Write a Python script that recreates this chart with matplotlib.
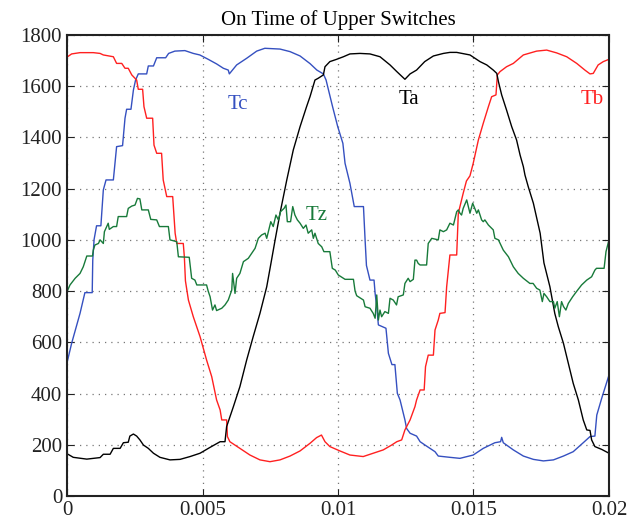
import numpy as np
import matplotlib
matplotlib.use("Agg")
import matplotlib.pyplot as plt

# time in ms
tc_t = [0.0, 0.17, 0.48, 0.66, 0.93, 0.95, 1.0, 1.09, 1.25, 1.34, 1.44, 1.71, 1.83, 2.05, 2.14, 2.2, 2.36,
        2.45, 2.53, 2.63, 2.94, 3.0, 3.19, 3.31, 3.64, 3.75, 3.98, 4.35, 4.66, 4.9, 5.21, 5.52, 5.77, 5.95,
        5.99, 6.26, 6.63, 7.0, 7.3, 7.86, 8.23, 8.6, 8.97, 9.22, 9.46, 9.56, 9.8, 9.99, 10.18, 10.26, 10.44,
        10.6, 10.94, 11.0, 11.05, 11.18, 11.33, 11.37, 11.43, 11.49, 11.77, 11.86, 11.99, 12.1, 12.19, 12.29,
        12.47, 12.53, 12.66, 12.9, 13.03, 13.21, 13.58, 13.7, 14.13, 14.5, 14.99, 15.36, 15.79, 16.0, 16.04,
        16.1, 16.47, 16.84, 17.21, 17.58, 17.95, 18.32, 18.68, 19.05, 19.3, 19.48, 19.55, 19.73, 20.0]
tc_v = [520, 596, 713, 794, 794, 921, 1002, 1055, 1055, 1195, 1234, 1234, 1364, 1368, 1475, 1510, 1510,
        1585, 1624, 1648, 1648, 1679, 1679, 1711, 1711, 1728, 1737, 1739, 1728, 1722, 1705, 1687, 1670, 1663,
        1648, 1683, 1709, 1737, 1748, 1745, 1735, 1718, 1688, 1663, 1648, 1624, 1520, 1442, 1377, 1299, 1221,
        1130, 1130, 1000, 900, 843, 843, 791, 739, 668, 655, 557, 513, 513, 401, 375,
        297, 264, 245, 234, 212, 199, 173, 156, 151, 147, 160, 186, 208, 212, 229,
        208, 180, 156, 143, 137, 141, 156, 173, 208, 232, 234, 316, 381, 472]

tb_t = [0.02, 0.17, 0.48, 0.97, 1.22, 1.34, 1.71, 1.83, 2.02, 2.14, 2.26, 2.39, 2.57, 2.63, 2.79, 2.84, 2.94,
        3.16, 3.21, 3.31, 3.49, 3.55, 3.68, 3.9, 3.99, 4.05, 4.29, 4.33, 4.37, 4.48, 4.66, 4.91, 5.15, 5.34,
        5.52, 5.65, 5.71, 5.89, 5.92, 6.01, 6.38, 6.75, 7.12, 7.49, 7.86, 8.23, 8.6, 8.97, 9.21, 9.39, 9.52,
        9.7, 10.07, 10.44, 10.93, 11.3, 11.67, 11.98, 12.17, 12.35, 12.47, 12.66, 12.84, 12.9, 13.03, 13.18,
        13.23, 13.33, 13.52, 13.58, 13.7, 13.76, 13.95, 14.01, 14.13, 14.38, 14.44, 14.62, 14.74, 14.87, 14.99,
        15.18, 15.36, 15.55, 15.67, 15.83, 15.88, 15.98, 16.22, 16.47, 16.84, 17.33, 17.7, 18.07, 18.44, 18.81,
        19.11, 19.3, 19.42, 19.6, 19.79, 20.0]
tb_v = [1715, 1726, 1731, 1731, 1728, 1722, 1715, 1689, 1689, 1670, 1670, 1644, 1624, 1588, 1588, 1520, 1475,
        1475, 1370, 1338, 1338, 1234, 1169, 1169, 1026, 986, 986, 934, 840, 765, 700, 622, 531, 466,
        375, 336, 297, 297, 232, 212, 186, 160, 141, 134, 141, 156, 176, 206, 228, 238, 212,
        193, 176, 160, 154, 167, 180, 199, 212, 219, 258, 297, 349, 375, 414, 414,
        505, 550, 550, 648, 687, 713, 716, 817, 941, 941, 1104, 1182, 1230, 1250, 1299,
        1390, 1455, 1520, 1559, 1566, 1644, 1657, 1676, 1689, 1722, 1737, 1741, 1730, 1715, 1689,
        1663, 1648, 1650, 1683, 1696, 1705]

ta_t = [0.02, 0.23, 0.73, 1.22, 1.34, 1.59, 1.71, 1.96, 2.08, 2.26, 2.32, 2.45, 2.57, 2.69, 2.82, 3.0, 3.19,
        3.43, 3.8, 4.17, 4.54, 4.91, 5.28, 5.65, 5.83, 5.89, 6.14, 6.38, 6.63, 6.87, 7.12, 7.37, 7.52, 7.68,
        7.86, 8.11, 8.35, 8.6, 8.84, 8.97, 9.15, 9.27, 9.46, 9.52, 9.7, 9.95, 10.2, 10.44, 10.81, 11.18, 11.55,
        11.92, 12.17, 12.47, 12.66, 12.9, 13.2, 13.52, 13.89, 14.13, 14.38, 14.87, 15.24, 15.49, 15.73, 15.86,
        15.92, 16.04, 16.22, 16.41, 16.59, 16.72, 16.84, 16.9, 17.02, 17.21, 17.46, 17.6, 17.82, 18.0, 18.13,
        18.32, 18.5, 18.68, 18.87, 19.05, 19.18, 19.3, 19.36, 19.48, 19.73, 20.0]
ta_v = [164, 151, 144, 150, 163, 163, 186, 186, 208, 210, 234, 242, 234, 219, 199, 186, 167,
        151, 141, 143, 154, 167, 190, 212, 212, 271, 349, 427, 531, 622, 713, 817, 905, 1000,
        1104, 1234, 1351, 1442, 1520, 1560, 1624, 1631, 1644, 1676, 1696, 1705, 1715, 1726, 1728, 1726, 1715,
        1683, 1657, 1627, 1648, 1663, 1696, 1718, 1728, 1732, 1732, 1722, 1696, 1683, 1663, 1650,
        1618, 1566, 1507, 1442, 1390, 1331, 1286, 1253, 1208, 1143, 1026, 910, 817, 713, 661,
        596, 518, 440, 375, 297, 258, 256, 219, 193, 182, 167]

tz_t = [0.0, 0.11, 0.3, 0.48, 0.6, 0.73, 0.94, 0.97, 1.03, 1.16, 1.22, 1.34, 1.38, 1.52, 1.56, 1.71, 1.83,
        1.89, 2.2, 2.26, 2.39, 2.51, 2.6, 2.69, 2.76, 3.0, 3.09, 3.31, 3.41, 3.74, 3.8, 4.05, 4.11, 4.51,
        4.6, 4.72, 4.79, 5.15, 5.21, 5.28, 5.37, 5.46, 5.52, 5.71, 5.83, 5.95, 6.08, 6.11, 6.2, 6.26, 6.38,
        6.51, 6.69, 6.81, 6.94, 7.06, 7.18, 7.31, 7.37, 7.52, 7.61, 7.71, 7.8, 7.88, 8.01, 8.08, 8.13, 8.25,
        8.33, 8.41, 8.5, 8.6, 8.72, 8.82, 8.9, 9.03, 9.09, 9.15, 9.27, 9.4, 9.48, 9.7, 9.79, 9.9, 10.01,
        10.26, 10.57, 10.63, 10.69, 10.94, 11.0, 11.18, 11.3, 11.37, 11.43, 11.49, 11.55, 11.61, 11.73, 11.86,
        11.92, 12.04, 12.16, 12.22, 12.41, 12.47, 12.59, 12.66, 12.78, 12.84, 12.9, 12.96, 13.03, 13.27, 13.33,
        13.46, 13.7, 13.76, 13.89, 14.01, 14.13, 14.26, 14.38, 14.44, 14.5, 14.56, 14.62, 14.75, 14.81, 14.87,
        14.97, 15.02, 15.12, 15.18, 15.3, 15.36, 15.42, 15.55, 15.73, 15.79, 15.92, 16.1, 16.29, 16.47, 16.65,
        16.84, 17.08, 17.2, 17.33, 17.45, 17.54, 17.6, 17.7, 17.82, 17.95, 18.0, 18.09, 18.17, 18.25, 18.32,
        18.41, 18.5, 18.66, 18.8, 18.99, 19.18, 19.36, 19.48, 19.54, 19.82, 19.89, 20.0]
tz_v = [798, 824, 850, 869, 895, 937, 937, 960, 980, 986, 1000, 986, 1032, 1065, 1041, 1052, 1052,
        1091, 1091, 1123, 1132, 1136, 1162, 1160, 1117, 1117, 1080, 1078, 1052, 1052, 1000, 993, 934, 932,
        850, 843, 824, 824, 800, 778, 726, 746, 724, 733, 746, 765, 804, 869, 791, 850, 869,
        915, 928, 947, 967, 1006, 1019, 1026, 1006, 1071, 1052, 1097, 1078, 1110, 1123, 1136, 1071, 1071,
        1130, 1097, 1078, 1065, 1045, 1058, 1026, 1039, 1006, 1026, 986, 973, 954, 954, 889, 882, 863,
        846, 846, 800, 782, 765, 739, 733, 713, 694, 785, 687, 726, 700, 720, 713,
        772, 765, 746, 778, 785, 830, 850, 837, 846, 921, 921, 908, 902, 902, 986,
        1006, 1000, 1039, 1032, 1039, 1065, 1058, 1110, 1117, 1104, 1097, 1123, 1156, 1130, 1104,
        1143, 1130, 1104, 1117, 1078, 1071, 1078, 1058, 1039, 1006, 1000, 960, 934, 895, 869,
        850, 830, 830, 811, 804, 759, 791, 778, 759, 759, 733, 759, 700, 759, 740,
        726, 752, 778, 798, 824, 843, 856, 882, 889, 889, 954, 1000]

x_ticks = [0, 0.005, 0.01, 0.015, 0.02]
x_tick_labels = ["0", "0.005", "0.01", "0.015", "0.02"]
y_ticks = [0, 200, 400, 600, 800, 1000, 1200, 1400, 1600, 1800]

plt.rcParams["font.family"] = ["Liberation Serif", "DejaVu Serif"]

fig = plt.figure(figsize=(6.31, 5.22), dpi=100)
ax = fig.add_axes([0.1062, 0.0498, 0.8589, 0.8832])

ms = 1e-3
ax.plot(np.array(tc_t) * ms, tc_v, color="#3550c0", lw=1.0)
ax.plot(np.array(tb_t) * ms, tb_v, color="#ff2020", lw=1.0)
ax.plot(np.array(ta_t) * ms, ta_v, color="black", lw=1.0)
ax.plot(np.array(tz_t) * ms, tz_v, color="#187a3a", lw=1.0)

ax.text(6.31 * ms, 1527, "Tc", color="#3550c0", fontsize=15, ha="center", va="center")
ax.text(12.62 * ms, 1550, "Ta", color="black", fontsize=15, ha="center", va="center")
ax.text(19.37 * ms, 1550, "Tb", color="#ff2020", fontsize=15, ha="center", va="center")
ax.text(9.22 * ms, 1097, "Tz", color="#187a3a", fontsize=15, ha="center", va="center")

ax.set_xlim(0, 0.02)
ax.set_ylim(0, 1800)
ax.set_xticks(x_ticks)
ax.set_xticklabels(x_tick_labels)
ax.set_yticks(y_ticks)
ax.tick_params(direction="in", top=True, right=True, length=5, labelsize=15, colors="#222222")
ax.grid(True, linestyle=(0, (1, 4)), color="#777777", linewidth=0.9)
for sp in ax.spines.values():
    sp.set_linewidth(1.5)
    sp.set_color("#222222")
ax.set_title("On Time of Upper Switches", fontsize=15, pad=7)

fig.savefig("out.png", dpi=100)
